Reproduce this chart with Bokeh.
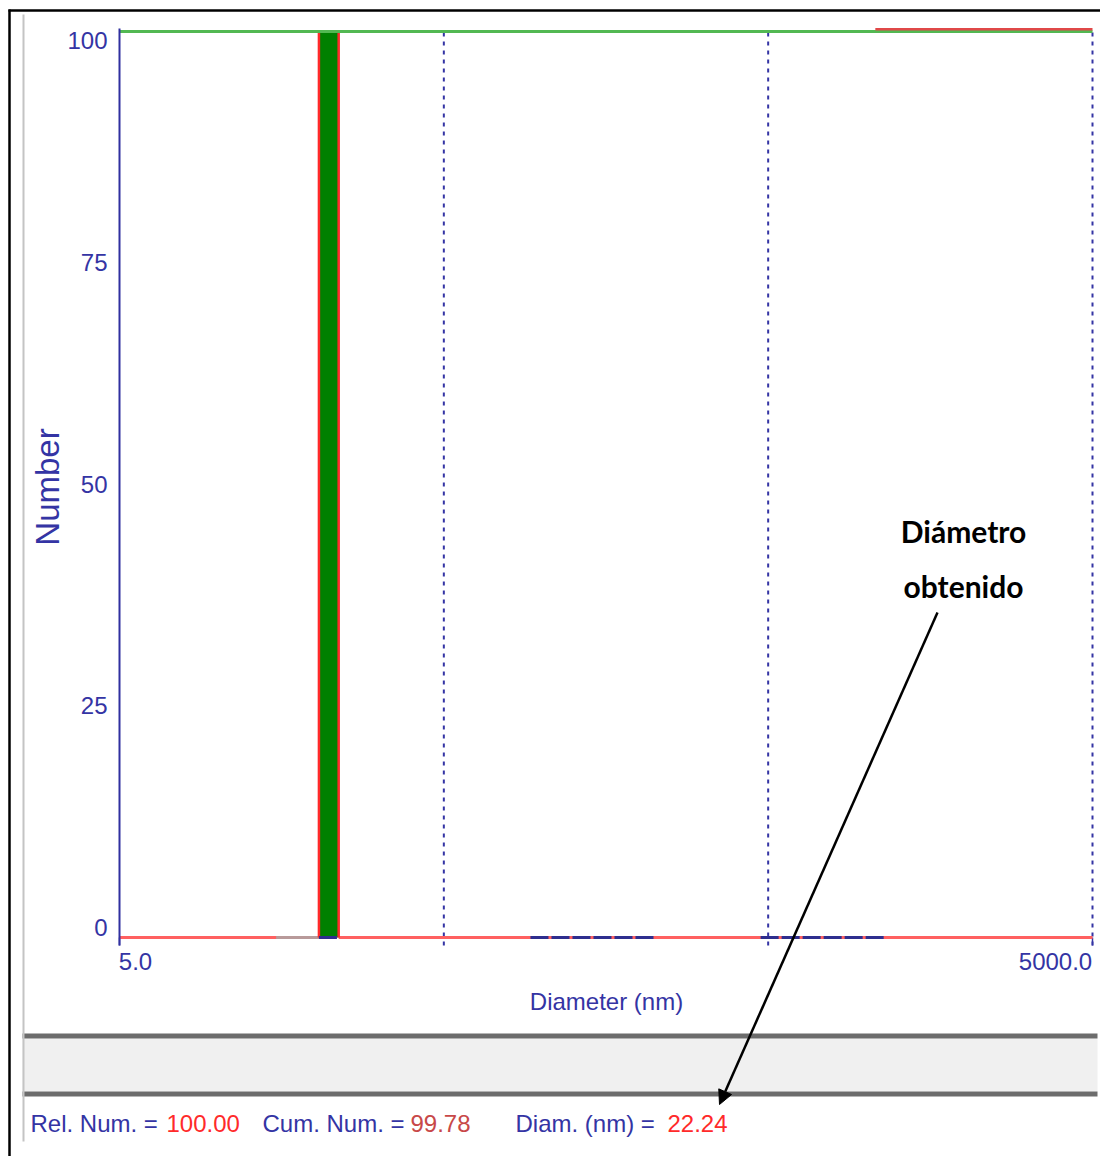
import math
from bokeh.plotting import figure
from bokeh.models import (Range1d, LinearScale, LinearAxis, FixedTicker, Arrow,
                          NormalHead)
from bokeh.core.properties import value
from bokeh.embed import file_html
from bokeh.resources import INLINE

# ---------------- data ----------------
bar_left = [20.6]
bar_right = [23.7]
rel_number = [100.0]

dist_x = [5.0, 20.6, 20.6, 23.7, 23.7, 5000.0]
dist_y = [0.0, 0.0, 100.0, 100.0, 0.0, 0.0]

cum_x = [5.0, 5000.0]
cum_y = [100.0, 100.0]

upper_x = [1070.0, 5000.0]
upper_y = [100.0, 100.0]

gray_x = [15.2, 20.6]
gray_y = [0.0, 0.0]

empty_bins_left = [20.6, 92.5, 474.0]
empty_bins_right = [23.7, 224.6, 1151.0]

grid_x = [50.0, 500.0, 5000.0]
y_ticks = [0, 25, 50, 75, 100]
x_tick_values = [5.0, 5000.0]
x_tick_labels = ["5.0", "5000.0"]

status_labels = ["Rel. Num. = ", "Cum. Num. = ", "Diam. (nm) = "]
status_values = ["100.00", "99.78", "22.24"]
note_lines = ["Diámetro", "obtenido"]

# ---------------- styling ----------------
NAVY = "#3434a4"
SANS = "Liberation Sans"

W, H = 1100, 1156
PAGE_X0, PAGE_Y0 = 0, 0

# main scales: log diameter, linear number
dec = (1092 - 119) / 3.0
def xdata(px):
    return 5.0 * 10 ** ((px - 119) / dec)
ppu = (937 - 31) / 100.0
def ydata(py):
    return (937 - py) / ppu

p = figure(width=W, height=H, x_axis_type="log",
           x_range=Range1d(xdata(PAGE_X0), xdata(PAGE_X0 + W)),
           y_range=Range1d(ydata(PAGE_Y0 + H), ydata(PAGE_Y0)),
           output_backend="svg", toolbar_location=None, title=None,
           min_border=0, x_axis_location=None, y_axis_location=None,
           outline_line_color=None)
p.grid.visible = False

# label ranges (tick labels are slightly offset in the original screenshot)
lppu = (927 - 40) / 100.0
ldec = (1055 - 135) / 3.0
lx0 = round(math.log10(x_tick_values[0]), 3)
def lx(px):
    return lx0 + (px - 135) / ldec
def ly(py):
    return (927 - py) / lppu

p.extra_x_ranges = {"lbl": Range1d(lx(PAGE_X0), lx(PAGE_X0 + W)),
                    "px": Range1d(PAGE_X0, PAGE_X0 + W)}
p.extra_x_scales = {"lbl": LinearScale(), "px": LinearScale()}
p.extra_y_ranges = {"lbl": Range1d(ly(PAGE_Y0 + H), ly(PAGE_Y0)),
                    "px": Range1d(PAGE_Y0 + H, PAGE_Y0)}

# ---------------- decorations (page pixel space) ----------------
PX = dict(x_range_name="px", y_range_name="px")
p.quad(left=[22], right=[1097], bottom=[1091], top=[1038], fill_color="#f0f0f0",
       line_color=None, **PX)
p.quad(left=[22, 22], right=[1097, 1097], bottom=[1038, 1096], top=[1033, 1091],
       fill_color="#6c6c6c", line_color=None, **PX)
p.segment(x0=[23], y0=[14], x1=[23], y1=[1141], line_color="#c4c4c4", line_width=2, **PX)
p.segment(x0=[8, 9], y0=[10, 9], x1=[1100, 9], y1=[10, 1156],
          line_color="black", line_width=2.5, **PX)

# ---------------- chart ----------------
p.segment(x0=grid_x, y0=[ydata(945)] * 3, x1=grid_x, y1=[ydata(30)] * 3,
          line_color=NAVY, line_width=2, line_dash="4 5")
p.segment(x0=x_tick_values, y0=[0, 0], x1=x_tick_values, y1=[ydata(945)] * 2,
          line_color=NAVY, line_width=1.5)

p.line(dist_x[:2], dist_y[:2], line_color="#ff6060", line_width=3)
p.line(dist_x[4:], dist_y[4:], line_color="#ff6060", line_width=3)
p.line(gray_x, gray_y, line_color="#b89a9a", line_width=3)
p.quad(left=bar_left, right=bar_right, bottom=[0], top=rel_number,
       fill_color="#008000", line_color=None)
p.line(dist_x[1:5], dist_y[1:5], line_color="#ff2a2a", line_width=2.5)
p.line(cum_x, cum_y, line_color="#52b852", line_width=3)
p.line(upper_x, [v + 0.25 for v in upper_y], line_color="#e04848", line_width=2.5)
p.segment(x0=empty_bins_left, y0=[0] * 3, x1=empty_bins_right, y1=[0] * 3,
          line_color="#2e2e8e", line_width=3, line_dash="18 3")

# y axis (line + labels)
yax = LinearAxis(y_range_name="lbl", fixed_location=5.0,
                 bounds=(ly(945), ly(28)),
                 ticker=FixedTicker(ticks=y_ticks),
                 axis_label="Number")
yax.axis_line_color = "#3030a0"
yax.axis_line_width = 2
yax.major_tick_line_color = None
yax.minor_tick_line_color = None
yax.major_label_standoff = 6
yax.major_label_text_font = SANS
yax.major_label_text_font_size = "24px"
yax.major_label_text_color = NAVY
yax.axis_label_text_font = SANS
yax.axis_label_text_font_style = "normal"
yax.axis_label_text_font_size = "33px"
yax.axis_label_text_color = NAVY
yax.axis_label_standoff = -2
p.add_layout(yax, "left")

# x axis (labels only)
lticks = [round(math.log10(v), 3) for v in x_tick_values]
xax = LinearAxis(x_range_name="lbl", fixed_location=0.0,
                 bounds=(lx(119), lx(1093)),
                 ticker=FixedTicker(ticks=lticks),
                 axis_label="Diameter (nm)")
xax.major_label_overrides = dict(zip(lticks, x_tick_labels))
xax.axis_line_color = None
xax.major_tick_line_color = None
xax.minor_tick_line_color = None
xax.major_label_standoff = 9
xax.major_label_text_font = SANS
xax.major_label_text_font_size = "24px"
xax.major_label_text_color = NAVY
xax.axis_label_text_font = SANS
xax.axis_label_text_font_style = "normal"
xax.axis_label_text_font_size = "24px"
xax.axis_label_text_color = NAVY
xax.axis_label_standoff = 15
p.add_layout(xax, "below")

# status line
p.text(x=[30, 262, 515], y=[1123] * 3, text=status_labels, text_color=NAVY,
       text_font=value(SANS), text_font_size="24px", text_baseline="middle",
       text_align="left", **PX)
p.text(x=[166, 410, 667], y=[1123] * 3, text=status_values,
       text_color=["#ff2a2a", "#c84848", "#ff2a2a"],
       text_font=value(SANS), text_font_size="24px", text_baseline="middle",
       text_align="left", **PX)

# annotation
p.text(x=[963, 963], y=[530, 585], text=note_lines, text_color="black",
       text_font=value("Lato"), text_font_style="bold", text_font_size="30px",
       text_baseline="middle", text_align="center", **PX)
p.add_layout(Arrow(x_start=937, y_start=612, x_end=719, y_end=1104,
                   line_color="black", line_width=2.5,
                   end=NormalHead(size=14, fill_color="black", line_color="black"),
                   **PX))

open("out.html", "w").write(file_html(p, INLINE))
